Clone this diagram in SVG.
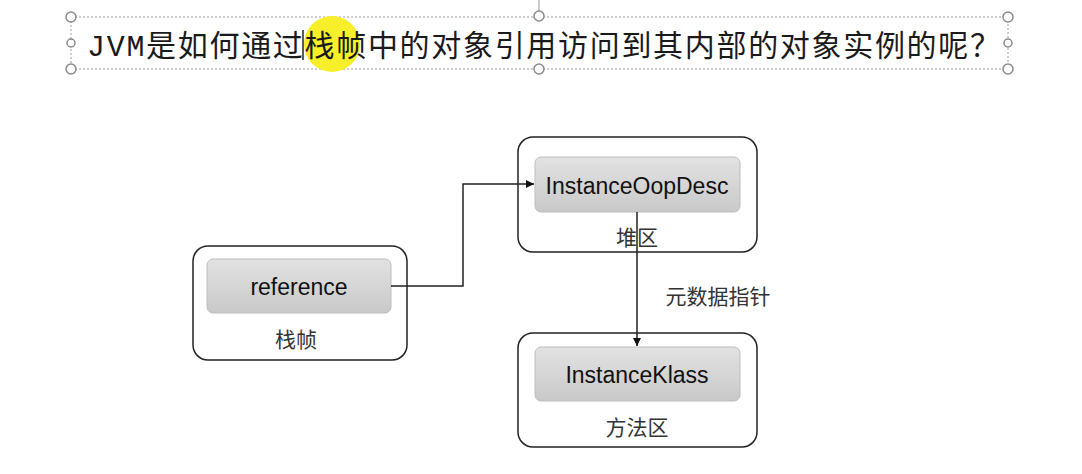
<svg xmlns="http://www.w3.org/2000/svg" width="1082" height="474" viewBox="0 0 1082 474">
<defs>
<linearGradient id="g" x1="0" y1="0" x2="0" y2="1">
<stop offset="0" stop-color="#e2e2e2"/>
<stop offset="1" stop-color="#c9c9c9"/>
</linearGradient>
<marker id="arr" viewBox="0 0 10 10" refX="10" refY="5" markerWidth="8" markerHeight="8" markerUnits="userSpaceOnUse" orient="auto">
<path d="M0,0 L10,5 L0,10 z" fill="#111"/>
</marker>
<style>
.outer{fill:#fff;stroke:#222;stroke-width:1.5}
.inner{fill:url(#g);stroke:#bdbdbd;stroke-width:1}
.name{font-family:"Liberation Sans",Arial,sans-serif;font-size:23px;fill:#111;text-anchor:middle}
.lbl{font-family:"Noto Sans CJK SC",sans-serif;font-size:21px;fill:#333;text-anchor:middle}
.conn{fill:none;stroke:#222;stroke-width:1.5}
.h{fill:#fff;stroke:#8a8a8a;stroke-width:1.5}
</style>
</defs>
<rect width="1082" height="474" fill="#fff"/>
<g id="title">
<rect x="71" y="17" width="937" height="52" fill="none" stroke="#9a9a9a" stroke-width="1" stroke-dasharray="2,2"/>
<line x1="539" y1="0" x2="539" y2="11" stroke="#9a9a9a" stroke-width="1"/>
<circle class="h" cx="71" cy="17" r="5"/>
<circle class="h" cx="539" cy="16" r="5"/>
<circle class="h" cx="1008" cy="17" r="5"/>
<circle class="h" cx="71" cy="43" r="4"/>
<circle class="h" cx="1008" cy="43" r="4"/>
<circle class="h" cx="71" cy="69" r="5"/>
<circle class="h" cx="539" cy="69" r="5"/>
<circle class="h" cx="1008" cy="69" r="5"/>
<circle cx="332" cy="44" r="28" fill="#f7ef2a"/>
<text x="87" y="56" textLength="913" lengthAdjust="spacing" font-family="'Liberation Mono','Noto Sans CJK SC',monospace" font-size="30" fill="#1a1a1a">JVM是如何通过栈帧中的对象引用访问到其内部的对象实例的呢？</text>
<line x1="303" y1="30" x2="303" y2="60" stroke="#222" stroke-width="1.5"/>
</g>
<g id="node-stack">
<rect class="outer" x="193" y="246" width="214" height="114" rx="15"/>
<rect class="inner" x="207" y="259" width="184" height="54" rx="6"/>
<text class="name" x="299" y="295">reference</text>
<text class="lbl" x="296" y="347">栈帧</text>
</g>
<g id="node-heap">
<rect class="outer" x="518" y="137" width="239" height="115" rx="15"/>
<rect class="inner" x="535" y="157" width="205" height="55" rx="6"/>
<text class="name" x="637" y="194">InstanceOopDesc</text>
<text class="lbl" x="637" y="245">堆区</text>
</g>
<g id="node-method">
<rect class="outer" x="518" y="333" width="239" height="114" rx="15"/>
<rect class="inner" x="535" y="347" width="205" height="54" rx="6"/>
<text class="name" x="637" y="383">InstanceKlass</text>
<text class="lbl" x="637" y="435">方法区</text>
</g>
<g id="connectors">
<path class="conn" d="M391,286 H463 V184 H534" marker-end="url(#arr)"/>
<path class="conn" d="M637,212 V346" marker-end="url(#arr)"/>
<text class="lbl" x="718" y="304">元数据指针</text>
</g>
</svg>
